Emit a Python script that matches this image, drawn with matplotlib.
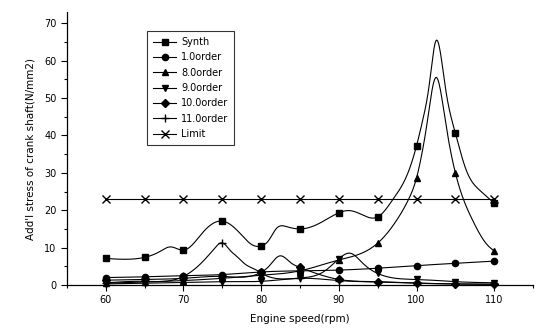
import numpy as np
import matplotlib
matplotlib.use("Agg")
import matplotlib.pyplot as plt
from matplotlib.ticker import MultipleLocator

plt.rcParams["font.family"] = ["DejaVu Sans"]

# engine speeds where the marker values were computed
rpm = [60, 65, 70, 75, 80, 85, 90, 95, 100, 105, 110]

synth = [7.1, 7.4, 9.3, 17.1, 10.4, 15.0, 19.3, 18.2, 37.2, 40.6, 21.9]
order_1 = [2.0, 2.2, 2.5, 2.8, 3.5, 3.8, 4.0, 4.5, 5.2, 5.8, 6.4]
order_8 = [0.5, 0.8, 1.2, 1.8, 2.6, 3.8, 6.7, 11.2, 28.6, 30.0, 9.1]
order_9 = [0.3, 0.5, 0.7, 0.9, 1.0, 1.9, 7.0, 3.1, 1.5, 0.9, 0.6]
order_10 = [1.3, 1.5, 1.8, 2.3, 3.4, 4.7, 1.5, 0.9, 0.5, 0.3, 0.2]
order_11 = [0.6, 1.0, 2.3, 11.3, 3.2, 1.8, 1.2, 0.8, 0.5, 0.3, 0.2]
limit = [23.0] * len(rpm)

# extra points on the curves between the computed speeds (resonance humps)
synth_x = [62, 67, 68.3, 69.2, 72.6, 77.3, 78.6, 81.0, 82.0, 83.3, 87.5,
           91.4, 93.1, 97.0, 98.7, 100.8, 101.6, 102.5, 103.7,
           106.4, 108.1]
synth_y = [6.9, 9.0, 10.2, 9.7, 14.3, 13.8, 11.1, 12.0, 15.2, 15.6, 16.5,
           19.9, 18.7, 23.0, 29.0, 44.1, 53.0, 65.3, 53.0,
           30.7, 25.4]
order_8_x = [97.5, 99.0, 100.7, 101.3, 102.5, 103.7, 107.2, 109.0]
order_8_y = [17.5, 23.0, 35.2, 42.5, 55.5, 44.0, 17.4, 11.0]
order_9_x = [88.0, 91.5, 93.1]
order_9_y = [3.5, 8.5, 5.8]
order_10_x = [81.0, 82.4, 83.8]
order_10_y = [5.0, 7.8, 6.0]
order_11_x = [72.6, 74.0, 76.0, 76.9, 78.0, 79.4]
order_11_y = [6.5, 9.8, 9.3, 7.6, 5.5, 4.0]


def spline(x, y, xs):
    # natural cubic spline through the knots
    x = np.asarray(x, float)
    y = np.asarray(y, float)
    n = len(x)
    h = np.diff(x)
    A = np.zeros((n, n))
    r = np.zeros(n)
    A[0, 0] = A[-1, -1] = 1.0
    for i in range(1, n - 1):
        A[i, i - 1] = h[i - 1]
        A[i, i] = 2 * (h[i - 1] + h[i])
        A[i, i + 1] = h[i]
        r[i] = 6 * ((y[i + 1] - y[i]) / h[i] - (y[i] - y[i - 1]) / h[i - 1])
    M = np.linalg.solve(A, r)
    idx = np.clip(np.searchsorted(x, xs) - 1, 0, n - 2)
    a = x[idx + 1] - xs
    b = xs - x[idx]
    hi = h[idx]
    return (M[idx] * a**3 / (6 * hi) + M[idx + 1] * b**3 / (6 * hi)
            + (y[idx] / hi - M[idx] * hi / 6) * a
            + (y[idx + 1] / hi - M[idx + 1] * hi / 6) * b)


def curve(vals, ex=(), ey=()):
    xs = list(rpm) + list(ex)
    ys = list(vals) + list(ey)
    order = np.argsort(xs)
    xk = np.array(xs)[order]
    yk = np.array(ys)[order]
    xx = np.linspace(xk[0], xk[-1], 1000)
    return xx, np.clip(spline(xk, yk, xx), 0, None)


series = [
    ("Synth", synth, "s", synth_x, synth_y),
    ("1.0order", order_1, "o", (), ()),
    ("8.0order", order_8, "^", order_8_x, order_8_y),
    ("9.0order", order_9, "v", order_9_x, order_9_y),
    ("10.0order", order_10, "D", order_10_x, order_10_y),
    ("11.0order", order_11, "+", order_11_x, order_11_y),
    ("Limit", limit, "x", (), ()),
]

fig = plt.figure(figsize=(5.39, 3.33), dpi=100)
ax = fig.add_axes([0.124, 0.144, 0.865, 0.82])

for name, vals, mk, ex, ey in series:
    xx, yy = curve(vals, ex, ey)
    ms = 4.5 if mk not in ("D", "+", "x") else 4.0
    if mk in ("+", "x"):
        ms = 6.0
    ax.plot(xx, yy, color="black", lw=0.8, clip_on=False)
    ax.plot(rpm, vals, ls="none", marker=mk, ms=ms, color="black",
            mew=1.0, clip_on=False)
    # legend proxy: line with marker in the middle
    ax.plot([], [], color="black", lw=0.8, marker=mk, ms=ms, mew=1.0,
            label=name)

ax.set_xlim(55, 115)
ax.set_ylim(0, 73)
ax.xaxis.set_major_locator(MultipleLocator(10))
ax.xaxis.set_minor_locator(MultipleLocator(5))
ax.yaxis.set_major_locator(MultipleLocator(10))
ax.yaxis.set_minor_locator(MultipleLocator(5))
ax.set_xticks([60, 70, 80, 90, 100, 110])
ax.tick_params(which="both", direction="out", width=0.8, labelsize=7)
ax.tick_params(which="major", length=4)
ax.tick_params(which="minor", length=2.5)
for s in ("top", "right"):
    ax.spines[s].set_visible(False)
for s in ("left", "bottom"):
    ax.spines[s].set_linewidth(0.9)

ax.set_xlabel("Engine speed(rpm)", fontsize=7.5, labelpad=6)
ax.set_ylabel("Add'l stress of crank shaft(N/mm2)", fontsize=7.5, labelpad=6)

leg = ax.legend(loc="upper left", bbox_to_anchor=(0.172, 0.93), fontsize=7,
                frameon=True, fancybox=False, edgecolor="black",
                handlelength=2.4, labelspacing=0.55, borderpad=0.6,
                handletextpad=0.5, borderaxespad=0)
leg.get_frame().set_linewidth(0.8)

fig.savefig("out.png", dpi=100)
